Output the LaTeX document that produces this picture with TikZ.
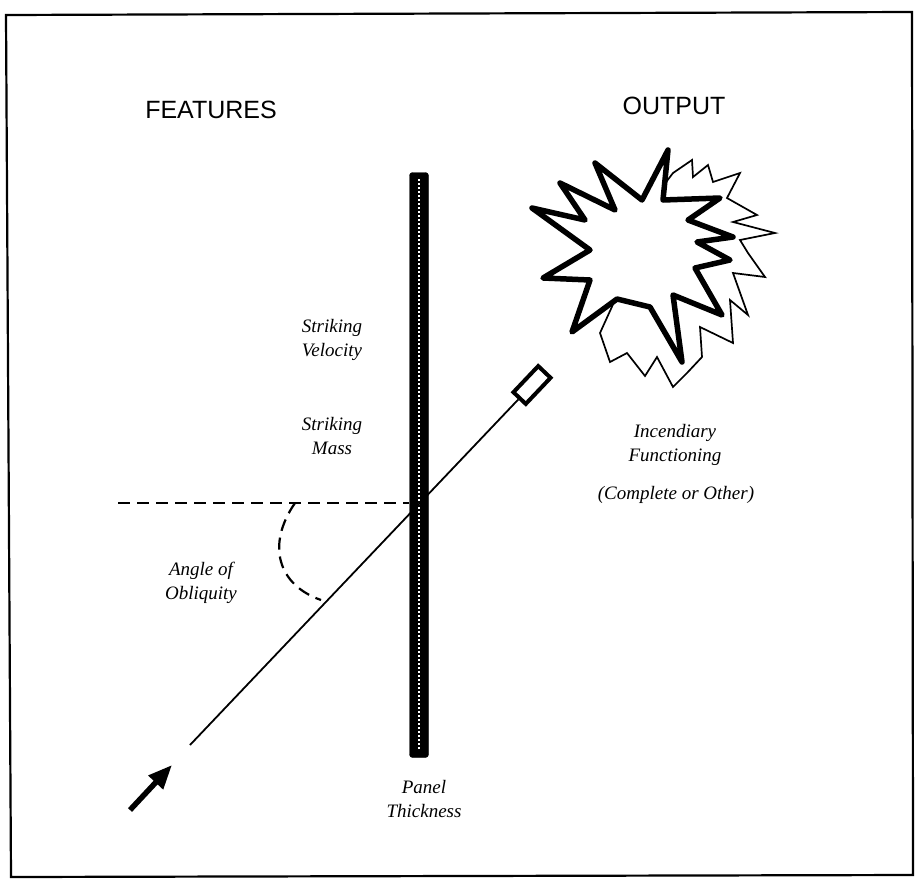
\documentclass[tikz,border=0pt]{standalone}
\usepackage{fontspec}
\setmainfont{Liberation Serif}
\newfontfamily\headfont{Liberation Sans}
\usetikzlibrary{arrows.meta}

\tikzset{
  heading/.style={font=\headfont\fontsize{25}{30}\selectfont, inner sep=0pt},
  lab/.style={font=\itshape\fontsize{19}{24}\selectfont, align=center, inner sep=0pt},
  panelbar/.style={draw=black, fill=black, rounded corners=3pt, minimum width=19pt,
    minimum height=585pt, inner sep=0pt},
  panelcore/.style={draw=white, line width=2.8pt, dash pattern=on 2pt off 2pt},
  pathline/.style={line width=1.8pt},
  guide/.style={line width=2.2pt, dash pattern=on 12pt off 7pt},
  fragment/.style={draw=black, fill=white, line width=4pt, minimum width=36pt,
    minimum height=17pt, inner sep=0pt, rotate=46.5},
  burst/.style={draw=black, fill=white, line width=5.5pt, line join=round},
  echo/.style={draw=black, fill=white, line width=1.7pt, line join=miter},
  frame/.style={line width=2.2pt, line join=miter}
}

\begin{document}
\begin{tikzpicture}[x=1pt, y=-1pt]
  \useasboundingbox (0,0) rectangle (915,881);

  % outer frame (slightly skewed, as scanned)
  \draw[frame] (6,15) -- (912,12) -- (913,875) -- (11,877) -- cycle;

  % headings
  \node[heading] (features) at (211,110) {FEATURES};
  \node[heading] (output) at (674,106) {OUTPUT};

  % target panel
  \node[panelbar] (panel) at (419,465) {};
  \draw[panelcore] ([yshift=-7pt]panel.north) -- ([yshift=7pt]panel.south);

  % projectile path
  \coordinate (start) at (190,745);
  \coordinate (hit) at (419,503);
  \node[fragment] (frag) at (532,385) {};
  \draw[pathline] (start) -- (frag.west);

  % incoming arrow
  \coordinate (tail) at (130,810);
  \coordinate (tip) at (172,765);
  \draw[line width=5.5pt, -{Triangle[length=24pt,width=19pt]}] (tail) -- (tip);

  % horizontal reference and angle of obliquity
  \coordinate (refend) at (118,503);
  \draw[guide] (refend) -- (panel.west |- hit);
  \coordinate (arcA) at (295,503);
  \coordinate (arcB) at (321,600);
  \draw[guide] (arcA) .. controls (266,545) and (278,585) .. (arcB);

  % explosion: thin echo behind, heavy burst in front
  \draw[echo] (660,190) -- (673,173) -- (692,160) -- (693,177) -- (708,165) -- (713,182)
    -- (740,173) -- (727,198) -- (757,215) -- (733,222) -- (775,233) -- (740,240)
    -- (748,253) -- (765,277) -- (733,273) -- (748,315) -- (730,300) -- (733,343)
    -- (700,327) -- (702,357) -- (687,373) -- (673,387) -- (657,357) -- (645,376)
    -- (627,353) -- (610,362) -- (600,333) -- (615,300) -- (660,260) -- cycle;
  \draw[burst] (668,150) -- (663,200) -- (720,198) -- (688,220) -- (733,237)
    -- (697,242) -- (730,260) -- (695,268) -- (722,315) -- (673,295) -- (682,362)
    -- (650,307) -- (617,299) -- (572,332) -- (590,280) -- (543,278) -- (590,250)
    -- (532,208) -- (585,220) -- (560,183) -- (615,210) -- (595,163) -- (642,200)
    -- cycle;

  % labels
  \node[lab] (velocity) at (332,340) {Striking\\Velocity};
  \node[lab] (mass) at (332,436) {Striking\\Mass};
  \node[lab] (obliquity) at (201,583) {Angle of\\Obliquity};
  \node[lab] (thickness) at (424,799) {Panel\\Thickness};
  \node[lab] (functioning) at (675,445) {Incendiary\\Functioning};
  \node[lab] (outcome) at (676,495) {(Complete or Other)};
\end{tikzpicture}
\end{document}
